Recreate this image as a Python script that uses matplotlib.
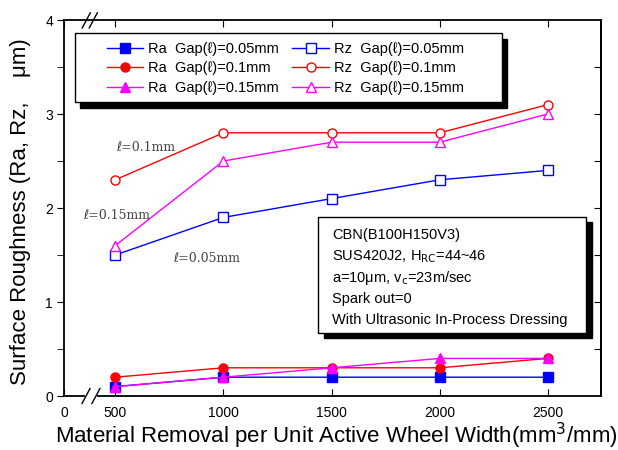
import numpy as np
import matplotlib.pyplot as plt
from matplotlib.patches import Rectangle

plt.rcParams['font.family'] = ['Liberation Sans', 'DejaVu Sans']

# material removal (mm^3/mm)
removal = [500, 1000, 1500, 2000, 2500]

# roughness values, um
ra_005 = [0.1, 0.2, 0.2, 0.2, 0.2]
rz_005 = [1.5, 1.9, 2.1, 2.3, 2.4]
ra_01 = [0.2, 0.3, 0.3, 0.3, 0.4]
rz_01 = [2.3, 2.8, 2.8, 2.8, 3.1]
ra_015 = [0.1, 0.2, 0.3, 0.4, 0.4]
rz_015 = [1.6, 2.5, 2.7, 2.7, 3.0]

# broken x axis: the left end is labelled 0
x_start, x_end = 263, 2745
x_ticks = [x_start, 500, 1000, 1500, 2000, 2500]
x_labels = ['0', '500', '1000', '1500', '2000', '2500']
y_ticks = [0, 1, 2, 3, 4]

fig = plt.figure(figsize=(6.18, 4.5), dpi=100)
ax = fig.add_axes([64 / 618, 54 / 450, 537 / 618, 376 / 450])

kw = dict(lw=1, ms=6.5)
l1, = ax.plot(removal, ra_005, '-s', color='blue', label='Ra  Gap(ℓ)=0.05mm', **kw)
l2, = ax.plot(removal, rz_005, '-s', color='blue', mfc='white', label='Rz  Gap(ℓ)=0.05mm', **kw)
l3, = ax.plot(removal, ra_01, '-o', color='red', label='Ra  Gap(ℓ)=0.1mm', **kw)
l4, = ax.plot(removal, rz_01, '-o', color='red', mfc='white', label='Rz  Gap(ℓ)=0.1mm', **kw)
l5, = ax.plot(removal, ra_015, '-^', color='magenta', label='Ra  Gap(ℓ)=0.15mm', **kw)
l6, = ax.plot(removal, rz_015, '-^', color='magenta', mfc='white', label='Rz  Gap(ℓ)=0.15mm', **kw)

ax.set_xlim(x_start, x_end)
ax.set_ylim(0, 4)
ax.set_xticks(x_ticks, x_labels)
ax.set_yticks(y_ticks)
ax.set_yticks(np.arange(0.5, 4, 1), minor=True)
ax.tick_params(axis='y', which='both', direction='out', labelsize=10, length=5, pad=3)
ax.tick_params(axis='x', direction='in', labelsize=10, length=5, pad=7, top=True)
for sp in ax.spines.values():
    sp.set_linewidth(1.3)

# inner ticks on the right every 0.5
right = ax.secondary_yaxis('right')
right.set_yticks(np.arange(0.5, 4, 0.5))
right.tick_params(direction='in', length=5, labelright=False)
right.spines['right'].set_linewidth(1.3)

ax.set_xlabel('Material Removal per Unit Active Wheel Width(mm$^3$/mm)', fontsize=16)
ax.set_ylabel('Surface Roughness (Ra, Rz,    μm)', fontsize=16)
ax.xaxis.set_label_coords(0.508, -0.066)
ax.yaxis.set_label_coords(-0.062, 0.49)

# axis break marks
ax.plot([0.043, 0.057], [0, 0], transform=ax.transAxes, color='white', lw=3,
        clip_on=False, zorder=3)
for x0 in (0.0335, 0.052):
    ax.plot([x0, x0 + 0.015], [-0.02, 0.02], transform=ax.transAxes, color='black',
            lw=1, clip_on=False, zorder=4)
for x0 in (0.034, 0.047):
    ax.plot([x0, x0 + 0.015], [0.979, 1.019], transform=ax.transAxes, color='black',
            lw=1, clip_on=False, zorder=4)

# legend with a drop shadow, filled row by row
ax.add_patch(Rectangle((0.0204 + 0.0093, 0.782 - 0.016), 0.7956, 0.183,
                       transform=ax.transAxes, color='black', zorder=4))
ax.add_patch(Rectangle((0.0204, 0.782), 0.7956, 0.183, transform=ax.transAxes,
                       fc='white', ec='black', lw=1, zorder=4.5))
handles = [l1, l3, l5, l2, l4, l6]
leg = ax.legend(handles=handles, loc='upper left', bbox_to_anchor=(0.0799, 0.9415),
                ncol=2, fontsize=10.5, frameon=False, borderaxespad=0, borderpad=0,
                handlelength=2.5, handletextpad=0.35, columnspacing=0.9, labelspacing=0.37)
leg.set_zorder(5)

lab = dict(fontsize=9, family=['DejaVu Serif', 'DejaVu Sans'], color='#444444',
           va='center', transform=ax.transAxes)
ax.text(0.098, 0.662, 'ℓ=0.1mm', **lab)
ax.text(0.036, 0.481, 'ℓ=0.15mm', **lab)
ax.text(0.203, 0.367, 'ℓ=0.05mm', **lab)

# conditions box with a drop shadow
ax.add_patch(Rectangle((0.473 + 0.012, 0.1676 - 0.013), 0.499, 0.308,
                       transform=ax.transAxes, color='black', zorder=5))
ax.add_patch(Rectangle((0.473, 0.1676), 0.499, 0.308, transform=ax.transAxes,
                       fc='white', ec='black', lw=1, zorder=5.5))
info = ['CBN(B100H150V3)',
        'SUS420J2, H$_{\\rm RC}$=44~46',
        'a=10μm, v$_{\\rm c}$=23m/sec',
        'Spark out=0',
        'With Ultrasonic In-Process Dressing']
for line, y in zip(info, [0.428, 0.370, 0.314, 0.258, 0.202]):
    ax.text(0.499, y, line, fontsize=10.5, va='center', ha='left', zorder=6,
            transform=ax.transAxes)

fig.savefig('out.png', dpi=100)
